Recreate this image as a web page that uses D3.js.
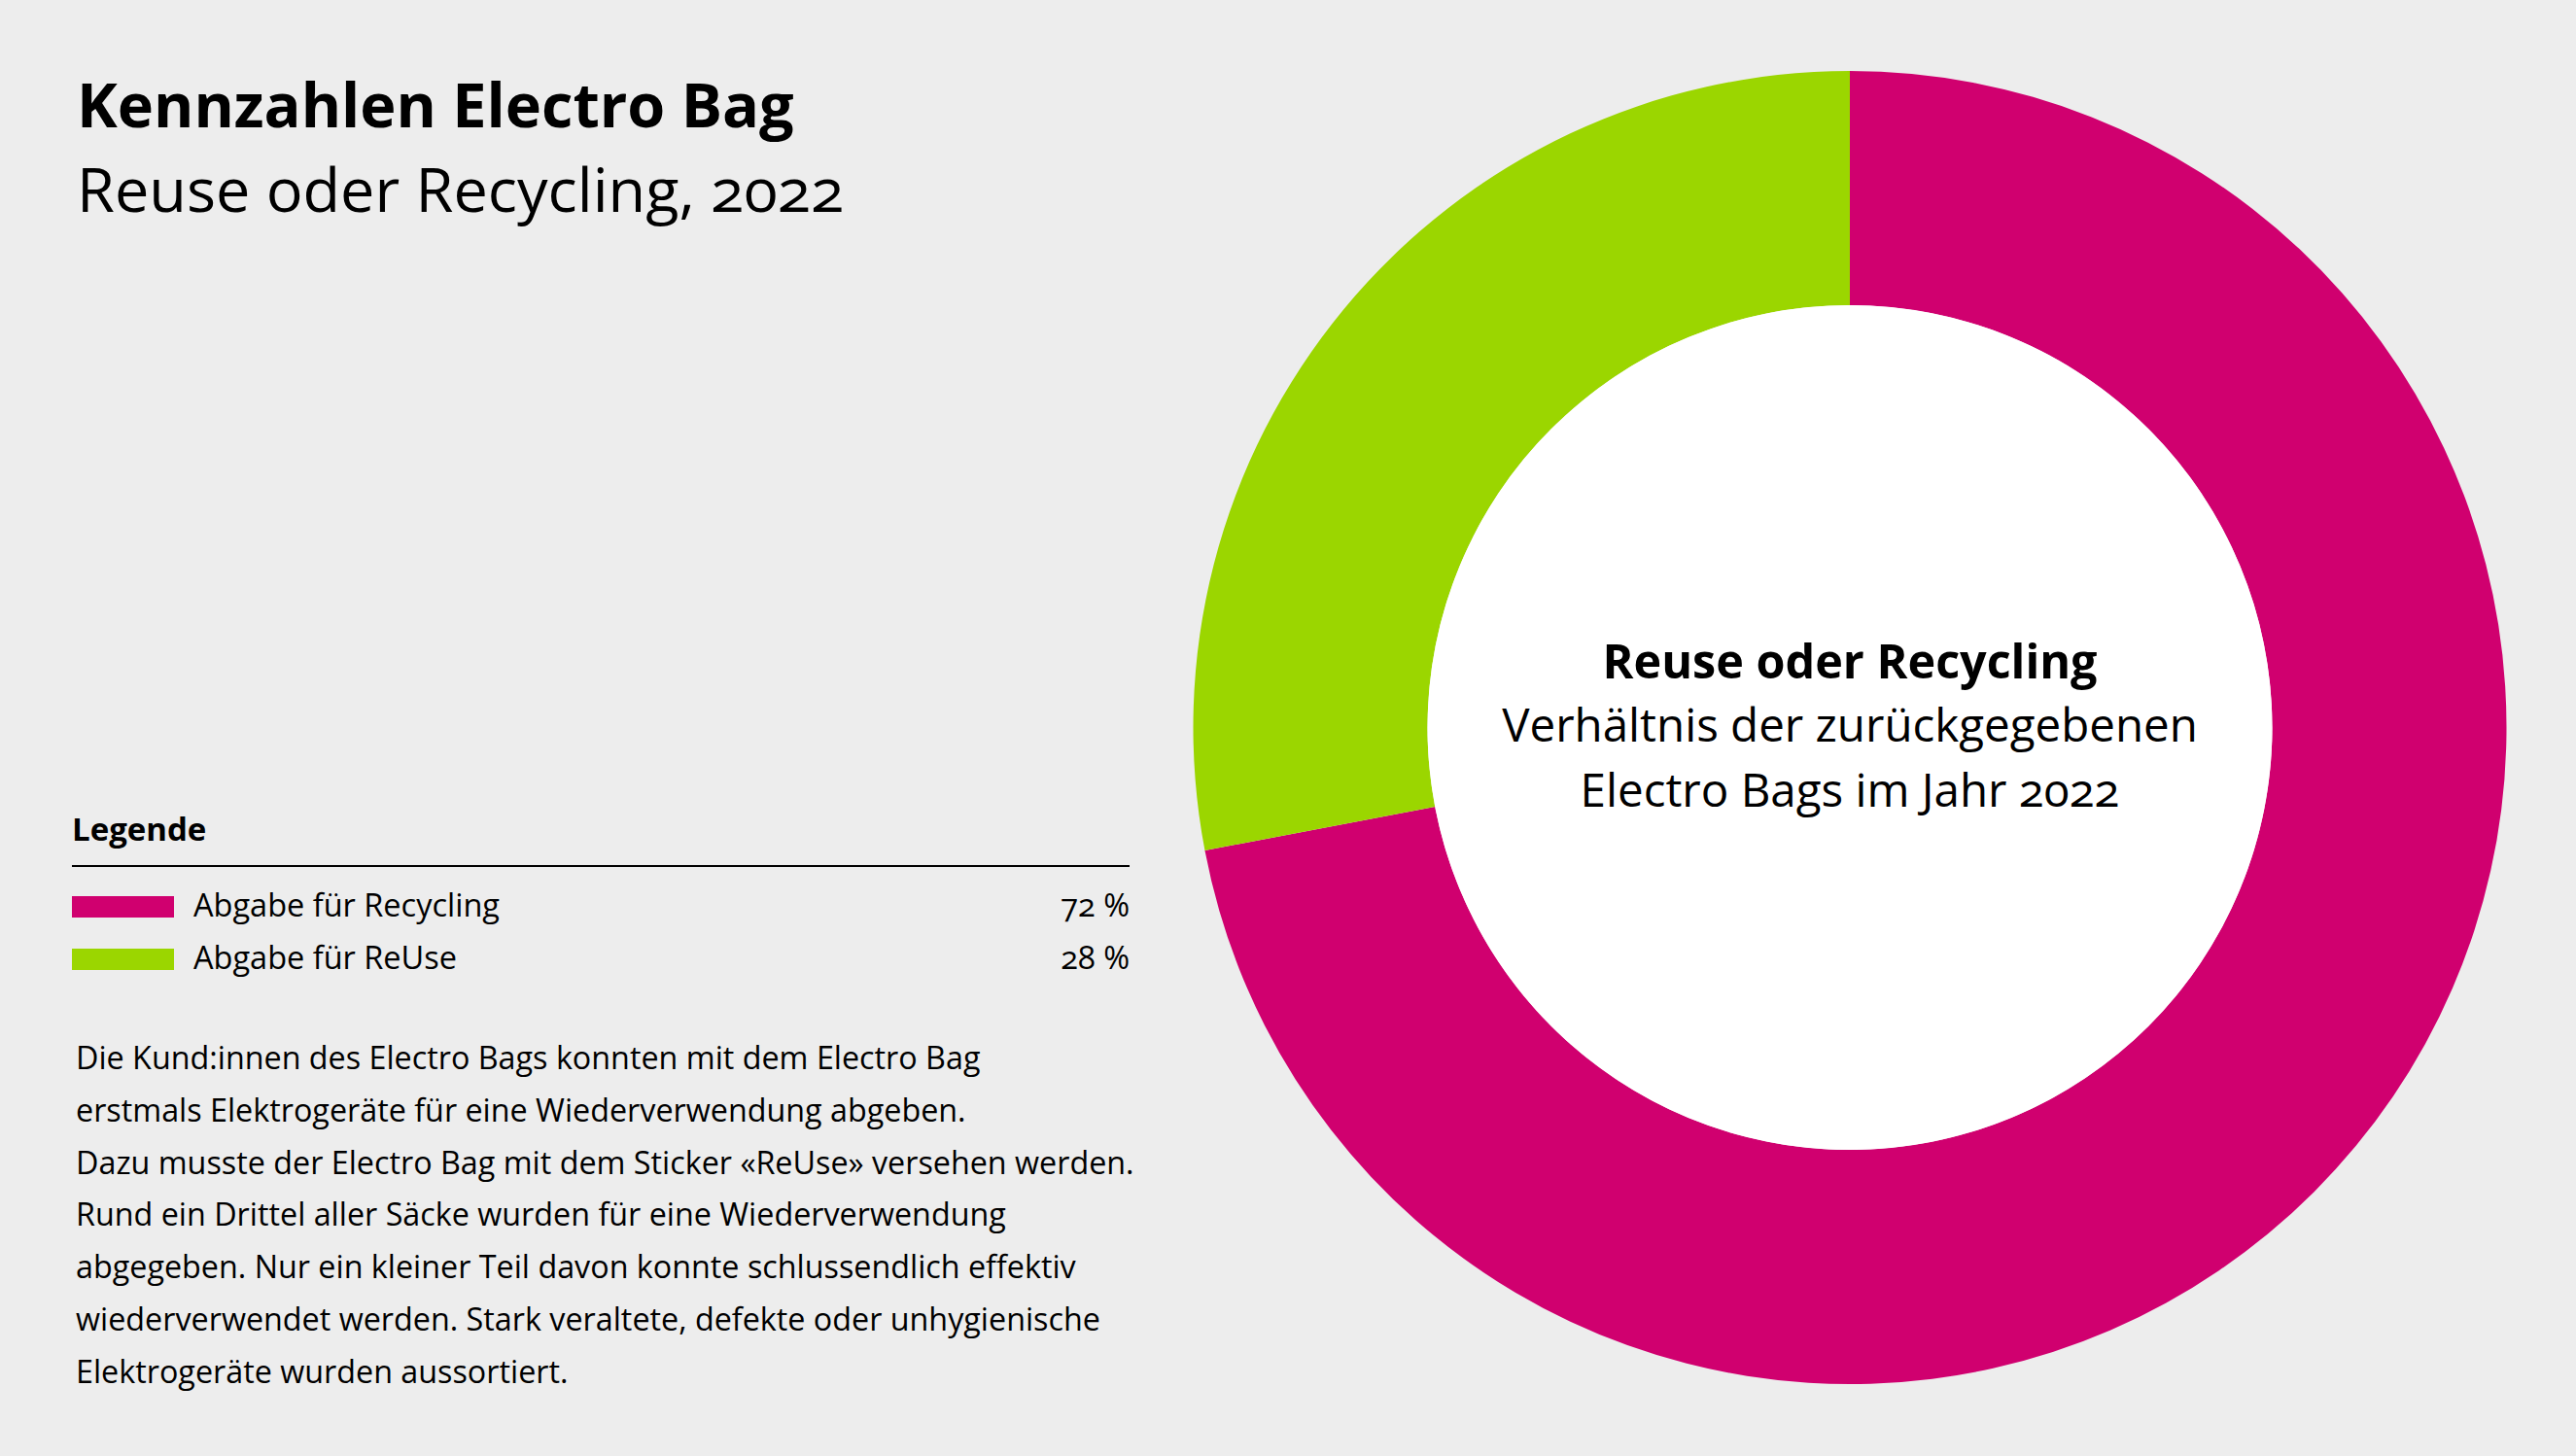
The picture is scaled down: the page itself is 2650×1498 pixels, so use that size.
<!DOCTYPE html>
<html><head><meta charset="utf-8">
<script src="https://cdn.jsdelivr.net/npm/d3@7/dist/d3.min.js"></script>
<style>
html,body{margin:0;padding:0;background:#ededed;}
svg{display:block;font-family:"Open Sans",sans-serif;font-variant-numeric:oldstyle-nums;}
</style></head>
<body><svg id="chart" width="2650" height="1498"></svg>
<script>
const categories = ["Abgabe für Recycling", "Abgabe für ReUse"];
const values = [72, 28];
const colors = ["#d0006f", "#9bd600"];
const title = "Kennzahlen Electro Bag";
const subtitle = "Reuse oder Recycling, 2022";
const legendTitle = "Legende";
const centerTitle = "Reuse oder Recycling";
const centerLines = ["Verhältnis der zurückgegebenen", "Electro Bags im Jahr 2022"];
const paragraph = [
  "Die Kund:innen des Electro Bags konnten mit dem Electro Bag",
  "erstmals Elektrogeräte für eine Wiederverwendung abgeben.",
  "Dazu musste der Electro Bag mit dem Sticker «ReUse» versehen werden.",
  "Rund ein Drittel aller Säcke wurden für eine Wiederverwendung",
  "abgegeben. Nur ein kleiner Teil davon konnte schlussendlich effektiv",
  "wiederverwendet werden. Stark veraltete, defekte oder unhygienische",
  "Elektrogeräte wurden aussortiert."
];

const svg = d3.select("#chart");
svg.append("rect").attr("width", 2650).attr("height", 1498).attr("fill", "#ededed");

// Titles
svg.append("text").attr("x", 79).attr("y", 131).attr("font-size", 63).attr("font-weight", 700)
  .attr("fill", "#000").text(title);
svg.append("text").attr("x", 79).attr("y", 218).attr("font-size", 63).attr("font-weight", 400)
  .attr("fill", "#000").text(subtitle);

// Donut
const cx = 1903, cy = 748.5, rOuter = 675.5, rInner = 434.5;
const pie = d3.pie().sort(null).value(d => d.v);
const arcs = pie(categories.map((c, i) => ({c, v: values[i], col: colors[i]})));
const arc = d3.arc().innerRadius(rInner).outerRadius(rOuter);
const g = svg.append("g").attr("transform", `translate(${cx},${cy})`);
g.selectAll("path").data(arcs).join("path").attr("d", arc).attr("fill", d => d.data.col);
g.append("circle").attr("r", rInner).attr("fill", "#ffffff");
g.append("text").attr("text-anchor", "middle").attr("y", 698 - cy).attr("font-size", 48.5)
  .attr("font-weight", 700).text(centerTitle);
g.selectAll("text.cl").data(centerLines).join("text").attr("class", "cl")
  .attr("text-anchor", "middle").attr("y", (d, i) => 763 - cy + i * 67).attr("font-size", 47.5)
  .attr("font-weight", 400).text(d => d);

// Legend
const lx = 74, rx = 1162;
svg.append("text").attr("x", lx).attr("y", 865).attr("font-size", 33).attr("font-weight", 700).text(legendTitle);
svg.append("line").attr("x1", lx).attr("x2", rx).attr("y1", 891).attr("y2", 891)
  .attr("stroke", "#000").attr("stroke-width", 2);
const rowY = d3.scaleBand().domain(categories).range([911, 1019]).padding(0);
const rows = svg.selectAll("g.row").data(categories).join("g").attr("class", "row")
  .attr("transform", d => `translate(0,${rowY(d)})`);
rows.append("rect").attr("x", lx).attr("y", 11).attr("width", 105).attr("height", 22)
  .attr("fill", (d, i) => colors[i]);
rows.append("text").attr("x", 199).attr("y", 32).attr("font-size", 32.5).text(d => d);
rows.append("text").attr("x", rx).attr("y", 32).attr("font-size", 32.5).attr("text-anchor", "end")
  .text((d, i) => values[i] + " %");

// Paragraph
svg.selectAll("text.p").data(paragraph).join("text").attr("class", "p")
  .attr("x", 78).attr("y", (d, i) => 1100 + i * 53.8).attr("font-size", 32.3).text(d => d);
</script></body></html>
